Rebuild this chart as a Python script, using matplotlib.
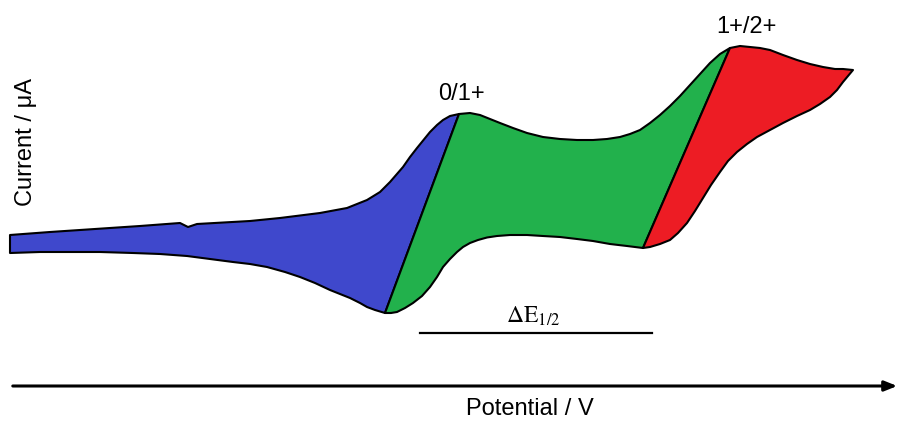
import numpy as np
import matplotlib.pyplot as plt
from matplotlib.patches import Polygon

plt.rcParams['font.family'] = ['Liberation Sans', 'DejaVu Sans']
plt.rcParams['mathtext.fontset'] = 'stix'

# schematic CV trace (x = potential, y = current, picture units)
upper_x = [10, 50, 95, 140, 180, 188, 197, 250, 280, 320, 347, 367, 380, 390, 403, 410, 417,
           430, 437, 443, 450, 459, 470, 480, 490, 500, 513, 527, 543, 560, 577, 593, 607,
           620, 630, 640, 650, 660, 670, 680, 690, 700, 710, 720, 730, 740, 750, 760, 770,
           783, 797, 810, 823, 835, 843, 853]
upper_y = [235, 232, 229, 226, 223, 227, 224, 221, 218, 213, 208, 200, 192, 182, 167, 157, 148,
           132, 125, 120, 116, 114, 113, 115, 119, 123, 128, 133, 137, 139, 140, 140, 139,
           137, 134, 130, 123, 115, 106, 96, 85, 74, 63, 54, 48, 46, 47, 48, 50,
           55, 60, 64, 67, 69, 69, 70]
lower_x = [10, 40, 67, 100, 133, 160, 187, 210, 233, 250, 267, 285, 300, 315, 330, 340, 350,
           360, 367, 375, 385, 391, 397, 405, 413, 422, 430, 437, 443, 450, 457, 463, 470,
           478, 487, 497, 510, 527, 543, 560, 577, 593, 610, 627, 643, 650, 660, 670, 678, 687,
           695, 703, 711, 720, 728, 737, 747, 757, 770, 783, 797, 810, 820, 830, 837, 843,
           848, 853]
lower_y = [253, 252, 252, 252, 253, 254, 256, 259, 262, 264, 267, 272, 277, 283, 290, 294, 298,
           303, 307, 310, 313, 313, 312, 308, 303, 296, 287, 277, 267, 259, 252, 247, 243,
           240, 237.5, 236, 235, 235, 236, 237, 239, 241, 244, 246, 248, 247, 244, 240, 233, 223,
           211, 198, 185, 172, 161, 152, 144, 137, 130, 123, 116, 110, 104, 97, 90, 82,
           76, 70]

# where the coloured regions split (0 -> 1+, 1+ -> 2+)
ox_upper = [459, 730]
ox_lower = [385, 643]
colors = ['#3F48CC', '#22B14C', '#ED1C24']

fig = plt.figure(figsize=(9.02, 4.21), dpi=100)
ax = fig.add_axes([0, 0, 1, 1])
ax.set_xlim(0, 902)
ax.set_ylim(421, 0)
ax.axis('off')

ux, uy = np.array(upper_x), np.array(upper_y)
lx, ly = np.array(lower_x), np.array(lower_y)
ub = [ux.min()] + ox_upper + [ux.max()]
lb = [lx.min()] + ox_lower + [lx.max()]
for i, c in enumerate(colors):
    mu = (ux >= ub[i]) & (ux <= ub[i + 1])
    ml = (lx >= lb[i]) & (lx <= lb[i + 1])
    pts = list(zip(ux[mu], uy[mu])) + list(zip(lx[ml], ly[ml]))[::-1]
    ax.add_patch(Polygon(pts, closed=True, facecolor=c, edgecolor='black',
                         lw=1.5, joinstyle='round'))

ax.text(461, 94, '0/1+', ha='center', va='center', fontsize=17)
ax.text(746, 27, '1+/2+', ha='center', va='center', fontsize=17)
ax.text(533, 316, r'$\Delta\mathrm{E}_{1/2}$', ha='center', va='center', fontsize=17)
ax.plot([420, 652], [333, 333], color='black', lw=1.6)

ax.annotate('', xy=(900, 386), xytext=(10, 386),
            arrowprops=dict(arrowstyle='-|>,head_length=0.75,head_width=0.3',
                            color='black', lw=2.2))
ax.text(530, 409, 'Potential / V', ha='center', va='center', fontsize=17)
ax.text(26, 142, 'Current / \u03bcA', ha='center', va='center', fontsize=17, rotation=90)

fig.savefig('out.png', dpi=100)
